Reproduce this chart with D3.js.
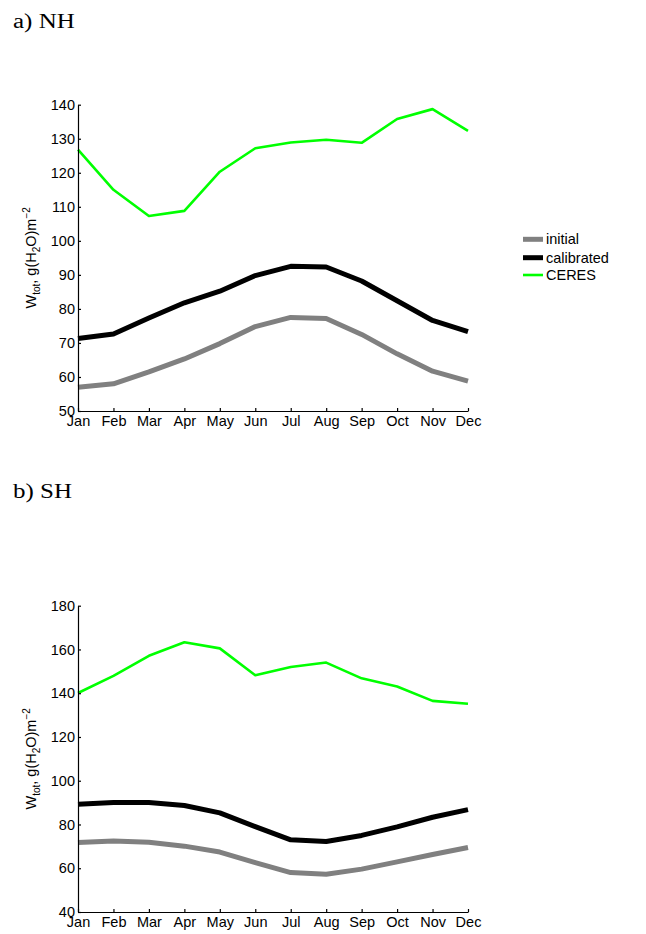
<!DOCTYPE html>
<html><head><meta charset="utf-8">
<script src="https://cdn.jsdelivr.net/npm/d3@7"></script>
<style>body{margin:0;background:#fff}svg{display:block}</style>
</head><body>
<script>
const months = ["Jan","Feb","Mar","Apr","May","Jun","Jul","Aug","Sep","Oct","Nov","Dec"];
const nhInitial    = [57.0,58.0,61.5,65.3,69.8,74.8,77.5,77.2,72.5,66.8,61.7,58.8];
const nhCalibrated = [71.3,72.6,77.3,81.8,85.2,89.8,92.5,92.3,88.2,82.4,76.6,73.3];
const nhCeres      = [126.8,115.0,107.3,108.8,120.3,127.2,128.9,129.7,128.8,135.8,138.7,132.3];
const shInitial    = [71.8,72.4,71.9,70.1,67.4,62.6,58.0,57.3,59.6,62.9,66.3,69.5];
const shCalibrated = [89.3,90.1,90.0,88.7,85.3,79.0,73.0,72.2,75.0,78.9,83.3,86.8];
const shCeres      = [140.1,147.9,157.1,163.3,160.5,148.2,152.0,154.0,146.8,143.1,136.5,135.2];
const nhTicks = [50,60,70,80,90,100,110,120,130,140];
const shTicks = [40,60,80,100,120,140,160,180];
const seriesNames = ["initial","calibrated","CERES"];
const seriesColors = ["#808080","#000000","#00ff00"];
const seriesWidths = [5,5,2.6];

const W = 646, H = 934;
const svg = d3.select("body").append("svg").attr("width", W).attr("height", H);
const sans = "'Liberation Sans', Arial, sans-serif";
const serif = "'Liberation Serif', 'DejaVu Serif', serif";
const fs = 14.5;

function panel(title, titleY, top, bottom, yDomain, yTicks, data) {
  svg.append("text").attr("transform", `translate(13,${titleY}) scale(1.25,1)`)
     .attr("font-family", serif).attr("font-size", 20).text(title);
  const x = d3.scalePoint().domain(months).range([78, 468]);
  const y = d3.scaleLinear().domain(yDomain).range([bottom, top]);
  const g = svg.append("g");
  const line = d3.line().x((d,i)=>x(months[i])).y(d=>y(d));
  data.forEach((s,k)=>{
    g.append("path").datum(s).attr("d", line).attr("fill","none")
     .attr("stroke", seriesColors[k]).attr("stroke-width", seriesWidths[k])
     .attr("stroke-linejoin","round");
  });
  const xa = g.append("g").attr("transform", `translate(0,${bottom})`)
    .call(d3.axisBottom(x).tickSizeInner(-3).tickSizeOuter(0).tickPadding(4.5));
  const ya = g.append("g").attr("transform", `translate(78,0)`)
    .call(d3.axisLeft(y).tickValues(yTicks).tickSizeInner(-3).tickSizeOuter(0).tickPadding(3));
  [xa, ya].forEach(a=>{
    a.selectAll("text").attr("font-family", sans).attr("font-size", fs).attr("fill","#000");
    a.selectAll("line,path").attr("stroke","#000").attr("stroke-width",1.2);
  });
  const cy = (top+bottom)/2;
  const lab = svg.append("text").attr("transform", `translate(36,${cy}) rotate(-90)`)
    .attr("text-anchor","middle").attr("font-family", sans).attr("font-size", fs);
  lab.append("tspan").text("W");
  lab.append("tspan").attr("font-size", 10).attr("dy", 4).text("tot");
  lab.append("tspan").attr("dy", -4).text(", g(H");
  lab.append("tspan").attr("font-size", 10).attr("dy", 4).text("2");
  lab.append("tspan").attr("dy", -4).text("O)m");
  lab.append("tspan").attr("font-size", 10).attr("dy", -6).text("\u22122");
}

panel("a) NH", 28, 104.7, 411, [50,140], nhTicks, [nhInitial, nhCalibrated, nhCeres]);
panel("b) SH", 498, 605.7, 912, [40,180], shTicks, [shInitial, shCalibrated, shCeres]);

const leg = svg.append("g");
const legY = [239.3, 257.7, 275];
seriesNames.forEach((n,k)=>{
  leg.append("line").attr("x1",523).attr("x2",543).attr("y1",legY[k]).attr("y2",legY[k])
     .attr("stroke", seriesColors[k]).attr("stroke-width", seriesWidths[k]);
  leg.append("text").attr("x",546).attr("y",legY[k]).attr("dy","0.35em")
     .attr("font-family", sans).attr("font-size", fs).text(n);
});
</script>
</body></html>
